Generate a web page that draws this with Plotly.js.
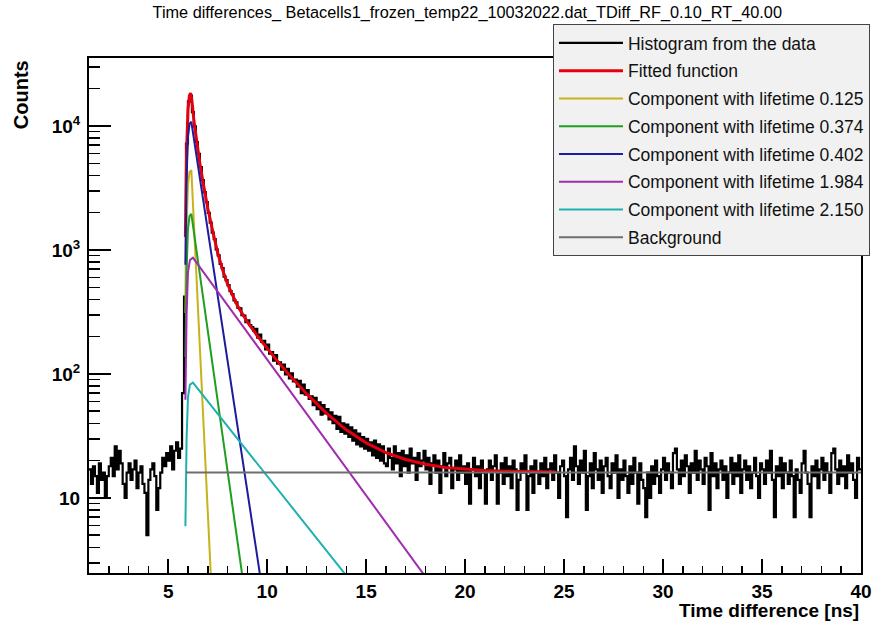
<!DOCTYPE html>
<html>
<head>
<meta charset="utf-8">
<script src="https://cdn.plot.ly/plotly-3.0.1.min.js"></script>
<style>html,body{margin:0;padding:0;background:#fff}#chart{width:885px;height:624px}</style>
</head>
<body>
<div id="chart"></div>
<script>
// ---------------- data ----------------
const histStart = 1.0;     // ns, lower edge of first bin
const binWidth = 0.1;      // ns
const histCounts = [
  17,13,18,15,11,19,14,16,10,15,
  18,21,15,26,17,24,19,13,10,16,
  19,14,17,20,12,16,18,13,11,5,
  14,17,19,15,8,12,16,21,18,23,
  20,26,17,24,28,21,25,70,420,7200,
  15800,17600,12900,9900,7400,5950,4650,3650,2920,2430,
  1990,1660,1380,1220,1010,905,770,715,610,570,
  520,465,440,392,378,341,338,298,296,262,
  270,248,238,222,231,196,208,181,185,158,
  172,146,150,128,142,121,124,108,119,99,
  110,92,101,87,90,79,88,70,82,68,
  74,63,66,56,64,52,59,47,56,48,
  52,43,49,40,46,36,45,34,40,33,
  39,31,37,29,35,27,33,26,31,25,
  30,24,28,22,29,21,27,20,26,19,
  18,25,21,17,26,19,23,15,24,18,
  22,16,25,19,21,14,23,18,20,24,
  17,21,13,19,22,16,20,11,18,23,
  15,19,21,12,17,20,14,22,16,18,
  13,19,9,17,21,15,18,12,20,16,
  9,17,20,14,18,22,9,16,19,13,
  21,15,18,12,20,17,8,14,19,16,
  22,8,15,18,11,20,16,13,19,15,
  21,12,17,19,14,22,16,10,18,20,
  15,7,17,21,14,26,18,13,20,16,
  24,8,15,19,12,23,17,14,20,11,
  18,21,15,12,19,16,22,10,17,14,
  20,15,11,18,13,21,16,9,19,14,
  12,7,16,10,18,13,20,15,11,17,
  21,14,19,16,12,23,25,17,13,20,
  15,22,18,11,19,16,24,14,20,17,
  13,21,18,8,23,15,19,12,17,20,
  14,18,10,16,21,13,19,15,22,11,
  17,20,14,18,12,16,21,15,10,19,
  17,13,20,16,24,14,7,18,15,21,
  12,19,16,13,20,15,7,17,14,11,
  19,24,16,13,7,18,15,20,12,17,
  21,14,19,16,11,23,25,17,13,20,
  15,18,12,22,16,19,14,10,21,17
];

const fitX = [5.87,5.93,6.0,6.07,6.13,6.2,6.3,6.4,6.5,6.6,6.75,6.9,7.0,7.25,7.5,7.75,8.0,8.5,9.0,9.5,10.0,10.5,11.0,12.0,13.0,14.0,15.0,16.0,17.0,18.0,19.0,20.0,21.0,22.0,23.0,24.6];
const fitY = [1270,6200,13500,17500,18400,16000,11000,8300,6400,5000,3600,2600,2170,1420,950,690,530,355,263,203,160,128,103,69,48,35.4,27.8,23.2,20.4,18.7,17.6,17.0,16.6,16.4,16.25,16.15];

const comp0125X = [5.87,5.93,6.0,6.08,6.17,7.15];
const comp0125Y = [310,1540,3350,4250,4400,2.45];
const comp0374X = [5.87,5.93,6.0,6.08,6.17,8.73];
const comp0374Y = [137,680,1480,1880,1950,2.45];
const comp0402X = [5.87,5.93,6.0,6.08,6.17,9.63];
const comp0402Y = [760,3780,8200,10400,10800,2.45];
const comp1984X = [5.87,5.93,6.0,6.1,6.25,17.88];
const comp1984Y = [62,300,660,830,867,2.45];
const comp2150X = [5.87,5.93,6.0,6.1,6.25,13.92];
const comp2150Y = [5.9,30,65,82,85,2.45];
const bgX = [5.9,40];
const bgY = [16,16];

const legendNames = [
  "Histogram from the data","Fitted function",
  "Component with lifetime 0.125","Component with lifetime 0.374",
  "Component with lifetime 0.402","Component with lifetime 1.984",
  "Component with lifetime 2.150","Background"
];
const yMajorVals = [10,100,1000,10000];
const yMajorText = ["10","10<sup>2</sup>","10<sup>3</sup>","10<sup>4</sup>"];
const yMinorVals = [3,4,5,6,7,8,9,20,30,40,50,60,70,80,90,200,300,400,500,600,700,800,900,2000,3000,4000,5000,6000,7000,8000,9000,20000,30000];

// histogram as steps over bin edges
const histX = [], histY = [];
histCounts.forEach((c,i)=>{ histX.push(histStart + i*binWidth); histY.push(c); });
histX.push(histStart + histCounts.length*binWidth); histY.push(histCounts[histCounts.length-1]);

const FONT = "Liberation Sans, Arial, Helvetica, sans-serif";
function tr(x,y,name,color,width,grp){
  return {x:x,y:y,type:"scatter",mode:"lines",name:name,legendgroup:grp,
          line:{color:color,width:width},hoverinfo:"skip"};
}
const histTrace = tr(histX,histY,legendNames[0],"#000000",2.2,"g0");
histTrace.line.shape = "hv";
const traces = [
  histTrace,
  tr(fitX,fitY,legendNames[1],"#e3000f",3,"g1"),
  tr(comp0125X,comp0125Y,legendNames[2],"#c8b21c",2,"g2"),
  tr(comp0374X,comp0374Y,legendNames[3],"#1f9e1f",2,"g3"),
  tr(comp0402X,comp0402Y,legendNames[4],"#1c1c9c",2,"g4"),
  tr(comp1984X,comp1984Y,legendNames[5],"#a02cb0",2,"g5"),
  tr(comp2150X,comp2150Y,legendNames[6],"#1fb0b0",2,"g6"),
  tr(bgX,bgY,legendNames[7],"#6e6e6e",2,"g7"),
  {x:[],y:[],type:"scatter",mode:"lines",yaxis:"y2",showlegend:false,hoverinfo:"skip"}
];

const yRange = [Math.log10(2.48), Math.log10(35300)];
const layout = {
  width:885, height:624,
  margin:{l:89,r:24,t:58,b:51},
  paper_bgcolor:"#ffffff", plot_bgcolor:"#ffffff",
  font:{family:FONT,color:"#000"},
  title:{text:"Time differences_ Betacells1_frozen_temp22_10032022.dat_TDiff_RF_0.10_RT_40.00",
         font:{family:FONT,size:16.3,color:"#000"},
         x:0.528, xref:"container", xanchor:"center", y:0.981, yref:"container", yanchor:"middle"},
  showlegend:true,
  legend:{x:0.601,xanchor:"left",y:1.066,yanchor:"top",
          bgcolor:"#f1f1f1",bordercolor:"#444",borderwidth:1,
          font:{family:FONT,size:17.5,color:"#111"},
          itemwidth:64, tracegroupgap:2},
  xaxis:{range:[1,40],tick0:0,dtick:5,ticks:"inside",ticklen:14,tickwidth:1.5,tickcolor:"#000",
         showline:true,linecolor:"#000",linewidth:2,mirror:true,showgrid:false,zeroline:false,
         tickfont:{family:FONT,size:19,weight:700,color:"#000"},ticklabelstandoff:0,
         minor:{dtick:1,tick0:0,ticks:"inside",ticklen:7,tickwidth:1.5,tickcolor:"#000",showgrid:false}},
  yaxis:{type:"log",range:yRange,tickvals:yMajorVals,ticktext:yMajorText,
         ticks:"inside",ticklen:22,tickwidth:1.5,tickcolor:"#000",
         showline:true,linecolor:"#000",linewidth:2,mirror:true,showgrid:false,zeroline:false,
         tickfont:{family:FONT,size:19,weight:700,color:"#000"},ticklabelstandoff:3},
  yaxis2:{type:"log",range:yRange,overlaying:"y",side:"left",anchor:"x",
          tickvals:yMinorVals,ticks:"inside",ticklen:11,tickwidth:1.5,tickcolor:"#000",
          showticklabels:false,showline:false,showgrid:false,zeroline:false},
  annotations:[
    {text:"<b>Counts</b>",xref:"paper",yref:"paper",x:-0.088,y:0.928,textangle:-90,
     xanchor:"center",yanchor:"middle",showarrow:false,font:{family:FONT,size:20,color:"#000"}},
    {text:"<b>Time difference [ns]</b>",xref:"paper",yref:"paper",x:1.0,y:-0.072,
     xanchor:"right",yanchor:"middle",showarrow:false,font:{family:FONT,size:19,color:"#000"}}
  ]
};
Plotly.newPlot("chart",traces,layout,{staticPlot:true,displayModeBar:false});
</script>
</body>
</html>
